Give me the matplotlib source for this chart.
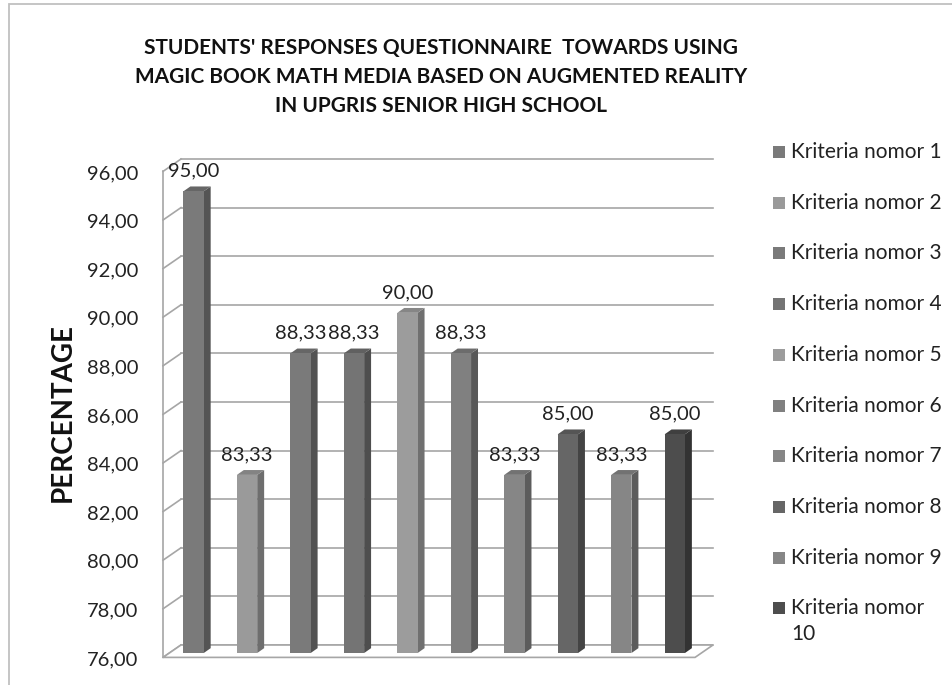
import matplotlib
matplotlib.use("Agg")
import matplotlib.pyplot as plt
from matplotlib.patches import Rectangle, Polygon

plt.rcParams["font.family"] = ["Lato", "DejaVu Sans"]

TITLE = ("STUDENTS' RESPONSES QUESTIONNAIRE  TOWARDS USING\n"
         "MAGIC BOOK MATH MEDIA BASED ON AUGMENTED REALITY\n"
         "IN UPGRIS SENIOR HIGH SCHOOL")
YLABEL = "PERCENTAGE"

criteria = ["Kriteria nomor 1", "Kriteria nomor 2", "Kriteria nomor 3",
            "Kriteria nomor 4", "Kriteria nomor 5", "Kriteria nomor 6",
            "Kriteria nomor 7", "Kriteria nomor 8", "Kriteria nomor 9",
            "Kriteria nomor\n10"]
values = [95.00, 83.33, 88.33, 88.33, 90.00, 88.33, 83.33, 85.00, 83.33, 85.00]
yticks = [76, 78, 80, 82, 84, 86, 88, 90, 92, 94, 96]

# face / side / top greys for each bar (legend uses the face colour)
face = ["#7a7a7a", "#9a9a9a", "#7a7a7a", "#747474", "#9c9c9c",
        "#808080", "#868686", "#666666", "#868686", "#4d4d4d"]
side = ["#545454", "#6e6e6e", "#525252", "#4e4e4e", "#707070",
        "#585858", "#5c5c5c", "#444444", "#5c5c5c", "#333333"]
top = ["#666666", "#838383", "#666666", "#606060", "#868686",
       "#6c6c6c", "#727272", "#555555", "#727272", "#3f3f3f"]

GRID = "#a6a6a6"
YMIN, YMAX = 76, 96
XL, XR = -0.45, 9.5
W = 0.38                 # bar width
FX, FY = -0.215, -0.33   # bar front plane vs back wall
BX, BY = 0.13, 0.20      # bar depth
WX, WY = 0.336, 0.51     # wall / floor depth

fig = plt.figure(figsize=(9.52, 6.85), dpi=100, facecolor="white")
ax = fig.add_axes([181 / 952, 40 / 685, 532 / 952, 486 / 685])
ax.set_xlim(XL, XR)
ax.set_ylim(YMIN, YMAX)
ax.axis("off")

# outer chart border (cropped at right and bottom)
fig.patches.append(Rectangle((9 / 952, -0.05), 1.2, 1.05 - 4 / 685,
                             transform=fig.transFigure, fill=False,
                             edgecolor="#c0c0c0", lw=1.3))

# back wall gridlines + side wall
for t in yticks:
    ax.plot([XL, XR], [t, t], color=GRID, lw=1.2, zorder=1, clip_on=False)
    ax.plot([XL - WX, XL], [t - WY, t], color=GRID, lw=1.2, zorder=1, clip_on=False)
    ax.annotate(f"{t:.2f}".replace(".", ","), (XL - WX, t - WY),
                xytext=(-17.5, -1.5), textcoords="offset points",
                ha="right", va="center", fontsize=14.5, color="#222222",
                annotation_clip=False)
ax.plot([XL - WX, XL - WX], [YMIN - WY, YMAX - WY], color=GRID, lw=1.2,
        zorder=1, clip_on=False)

# floor
ax.add_patch(Polygon([(XL - WX, YMIN - WY), (XR - WX, YMIN - WY),
                      (XR, YMIN), (XL, YMIN)], closed=True,
                     facecolor="white", edgecolor=GRID, lw=1.2, zorder=2,
                     clip_on=False))

# 3D-ish bars
for i, v in enumerate(values):
    x0 = i + FX - W / 2
    x1 = i + FX + W / 2
    b = YMIN + FY
    h = v + FY
    ax.add_patch(Polygon([(x1, b), (x1, h), (x1 + BX, h + BY), (x1 + BX, b + BY)],
                         closed=True, facecolor=side[i], edgecolor="none",
                         zorder=3, clip_on=False))
    ax.add_patch(Polygon([(x0, h), (x1, h), (x1 + BX, h + BY), (x0 + BX, h + BY)],
                         closed=True, facecolor=top[i], edgecolor="none",
                         zorder=3, clip_on=False))
    ax.add_patch(Rectangle((x0, b), W, v - YMIN, facecolor=face[i],
                           edgecolor="none", zorder=4, clip_on=False))
    ax.annotate(f"{v:.2f}".replace(".", ","), (i + FX, h + BY),
                xytext=(0, 7), textcoords="offset points",
                ha="center", va="baseline", fontsize=14.5, color="#222222",
                annotation_clip=False)

fig.text(441 / 952, 1 - 77 / 685, TITLE, ha="center", va="center",
         fontsize=15, fontweight="bold", color="#111111", linespacing=1.55)
fig.text(63 / 952, 1 - 413 / 685, YLABEL, rotation=90, ha="center",
         va="center", fontsize=20, fontweight="bold", color="#111111")

# legend
for i, name in enumerate(criteria):
    yc = 1 - (152 + 50.7 * i) / 685
    fig.patches.append(Rectangle((773 / 952, yc - 6 / 685), 12 / 952, 12 / 685,
                                 transform=fig.transFigure,
                                 facecolor=face[i], edgecolor="none"))
    fig.text(791 / 952, yc + 10 / 685, name, ha="left", va="top",
             fontsize=15, color="#222222", linespacing=1.35)

fig.savefig("out.png", dpi=100, facecolor="white")
